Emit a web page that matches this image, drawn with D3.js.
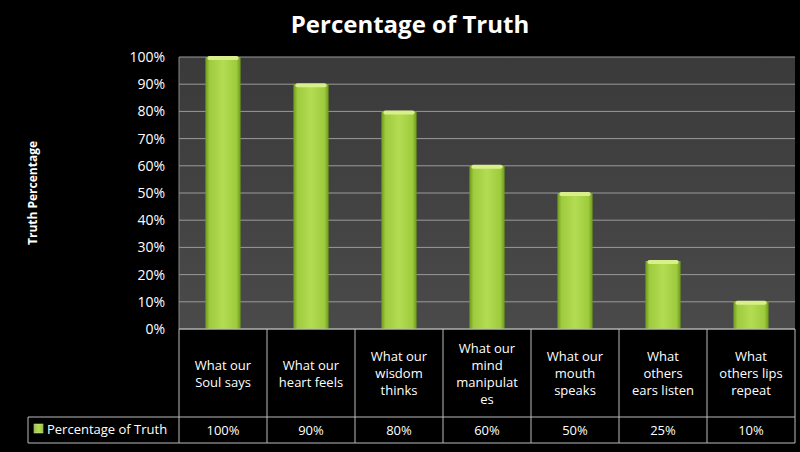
<!DOCTYPE html>
<html>
<head>
<meta charset="utf-8">
<script src="https://cdn.jsdelivr.net/npm/d3@7"></script>
<style>
  body { margin: 0; background: #000; }
  text { font-family: "Open Sans", sans-serif; fill: #fff; }
</style>
</head>
<body>
<script>
// categories, values, tick labels
const categories = [
    ["What our", "Soul says"],
    ["What our", "heart feels"],
    ["What our", "wisdom", "thinks"],
    ["What our", "mind", "manipulat", "es"],
    ["What our", "mouth", "speaks"],
    ["What", "others", "ears listen"],
    ["What", "others lips", "repeat"]
];
const values = [100, 90, 80, 60, 50, 25, 10];
const yTicks = [0, 10, 20, 30, 40, 50, 60, 70, 80, 90, 100];
const seriesName = "Percentage of Truth";

const width = 800, height = 452;
const plotLeft = 179, plotRight = 795, plotTop = 57, plotBottom = 329;

const svg = d3.select("body").append("svg")
    .attr("width", width)
    .attr("height", height);

const defs = svg.append("defs");
const bg = defs.append("linearGradient").attr("id", "bg").attr("x1", 0).attr("y1", 0).attr("x2", 0).attr("y2", 1);
bg.append("stop").attr("offset", 0).attr("stop-color", "#3a3a3a");
bg.append("stop").attr("offset", 1).attr("stop-color", "#4a4a4a");
const bar = defs.append("linearGradient").attr("id", "bar").attr("x1", 0).attr("y1", 0).attr("x2", 1).attr("y2", 0);
bar.append("stop").attr("offset", 0).attr("stop-color", "#6f9a1c");
bar.append("stop").attr("offset", 0.12).attr("stop-color", "#9fcb3e");
bar.append("stop").attr("offset", 0.5).attr("stop-color", "#b3dc52");
bar.append("stop").attr("offset", 0.88).attr("stop-color", "#9fcb3e");
bar.append("stop").attr("offset", 1).attr("stop-color", "#6f9a1c");

// title
svg.append("text")
    .attr("x", 410).attr("y", 33)
    .attr("text-anchor", "middle")
    .style("font-size", "24px").style("font-weight", "bold")
    .text("Percentage of Truth");

// axis title
svg.append("text")
    .attr("transform", "translate(37,193) rotate(-90)")
    .attr("text-anchor", "middle")
    .style("font-size", "12px").style("font-weight", "bold")
    .text("Truth Percentage");

const x = d3.scaleBand().domain(d3.range(categories.length)).range([plotLeft, plotRight]).paddingInner(0.6).paddingOuter(0.3);
const xCell = d3.scaleBand().domain(d3.range(categories.length)).range([plotLeft, plotRight]);
const y = d3.scaleLinear().domain([0, 100]).range([plotBottom, plotTop]);

svg.append("rect")
    .attr("x", plotLeft).attr("y", plotTop)
    .attr("width", plotRight - plotLeft).attr("height", plotBottom - plotTop)
    .attr("fill", "url(#bg)");

// gridlines
svg.append("g").selectAll("line").data(yTicks).join("line")
    .attr("x1", plotLeft).attr("x2", plotRight)
    .attr("y1", d => y(d)).attr("y2", d => y(d))
    .attr("stroke", "#9a9a9a").attr("stroke-width", 1);

// y axis labels
svg.append("g").selectAll("text").data(yTicks).join("text")
    .attr("x", 165).attr("y", d => y(d) + 5)
    .attr("text-anchor", "end")
    .style("font-size", "14px")
    .text(d => d + "%");

svg.append("line").attr("x1", plotLeft).attr("x2", plotLeft).attr("y1", plotTop).attr("y2", plotBottom).attr("stroke", "#888");

// bars
const g = svg.append("g").selectAll("g").data(values).join("g");
g.append("rect")
    .attr("x", (d, i) => x(i)).attr("y", d => y(d))
    .attr("width", x.bandwidth()).attr("height", d => plotBottom - y(d))
    .attr("fill", "url(#bar)");
g.append("rect")
    .attr("x", (d, i) => x(i) + 2).attr("y", d => y(d) - 1)
    .attr("width", x.bandwidth() - 4).attr("height", 4)
    .attr("rx", 2)
    .attr("fill", "#d9f08a");

// data table
const rowTop = 329, rowMid = 417, rowBot = 443;
const t = svg.append("g").attr("stroke", "#bbb").attr("fill", "none");
t.append("line").attr("x1", plotLeft).attr("x2", plotRight).attr("y1", rowTop).attr("y2", rowTop);
t.append("line").attr("x1", 28).attr("x2", plotRight).attr("y1", rowMid).attr("y2", rowMid);
t.append("line").attr("x1", 28).attr("x2", plotRight).attr("y1", rowBot).attr("y2", rowBot);
t.append("line").attr("x1", 28).attr("x2", 28).attr("y1", rowMid).attr("y2", rowBot);
t.selectAll(".v").data(d3.range(categories.length + 1)).join("line")
    .attr("x1", i => plotLeft + i * xCell.step()).attr("x2", i => plotLeft + i * xCell.step())
    .attr("y1", rowTop).attr("y2", rowBot);

svg.append("g").selectAll("text").data(categories).join("text")
    .attr("text-anchor", "middle")
    .style("font-size", "13px")
    .each(function (lines, i) {
        const cx = xCell(i) + xCell.bandwidth() / 2;
        const y0 = (rowTop + rowMid) / 2 - (lines.length - 1) * 8.5 + 5;
        d3.select(this).selectAll("tspan").data(lines).join("tspan")
            .attr("x", cx).attr("y", (l, k) => y0 + k * 17)
            .text(l => l);
    });

svg.append("g").selectAll("text").data(values).join("text")
    .attr("x", (d, i) => xCell(i) + xCell.bandwidth() / 2)
    .attr("y", rowMid + 18)
    .attr("text-anchor", "middle")
    .style("font-size", "13px")
    .text(d => d + "%");

svg.append("rect").attr("x", 34).attr("y", 424).attr("width", 9).attr("height", 9).attr("fill", "url(#bar)").attr("stroke", "#ddd").attr("stroke-width", 0.5);
svg.append("text").attr("x", 47).attr("y", 434).style("font-size", "13px").text(seriesName);
</script>
</body>
</html>
